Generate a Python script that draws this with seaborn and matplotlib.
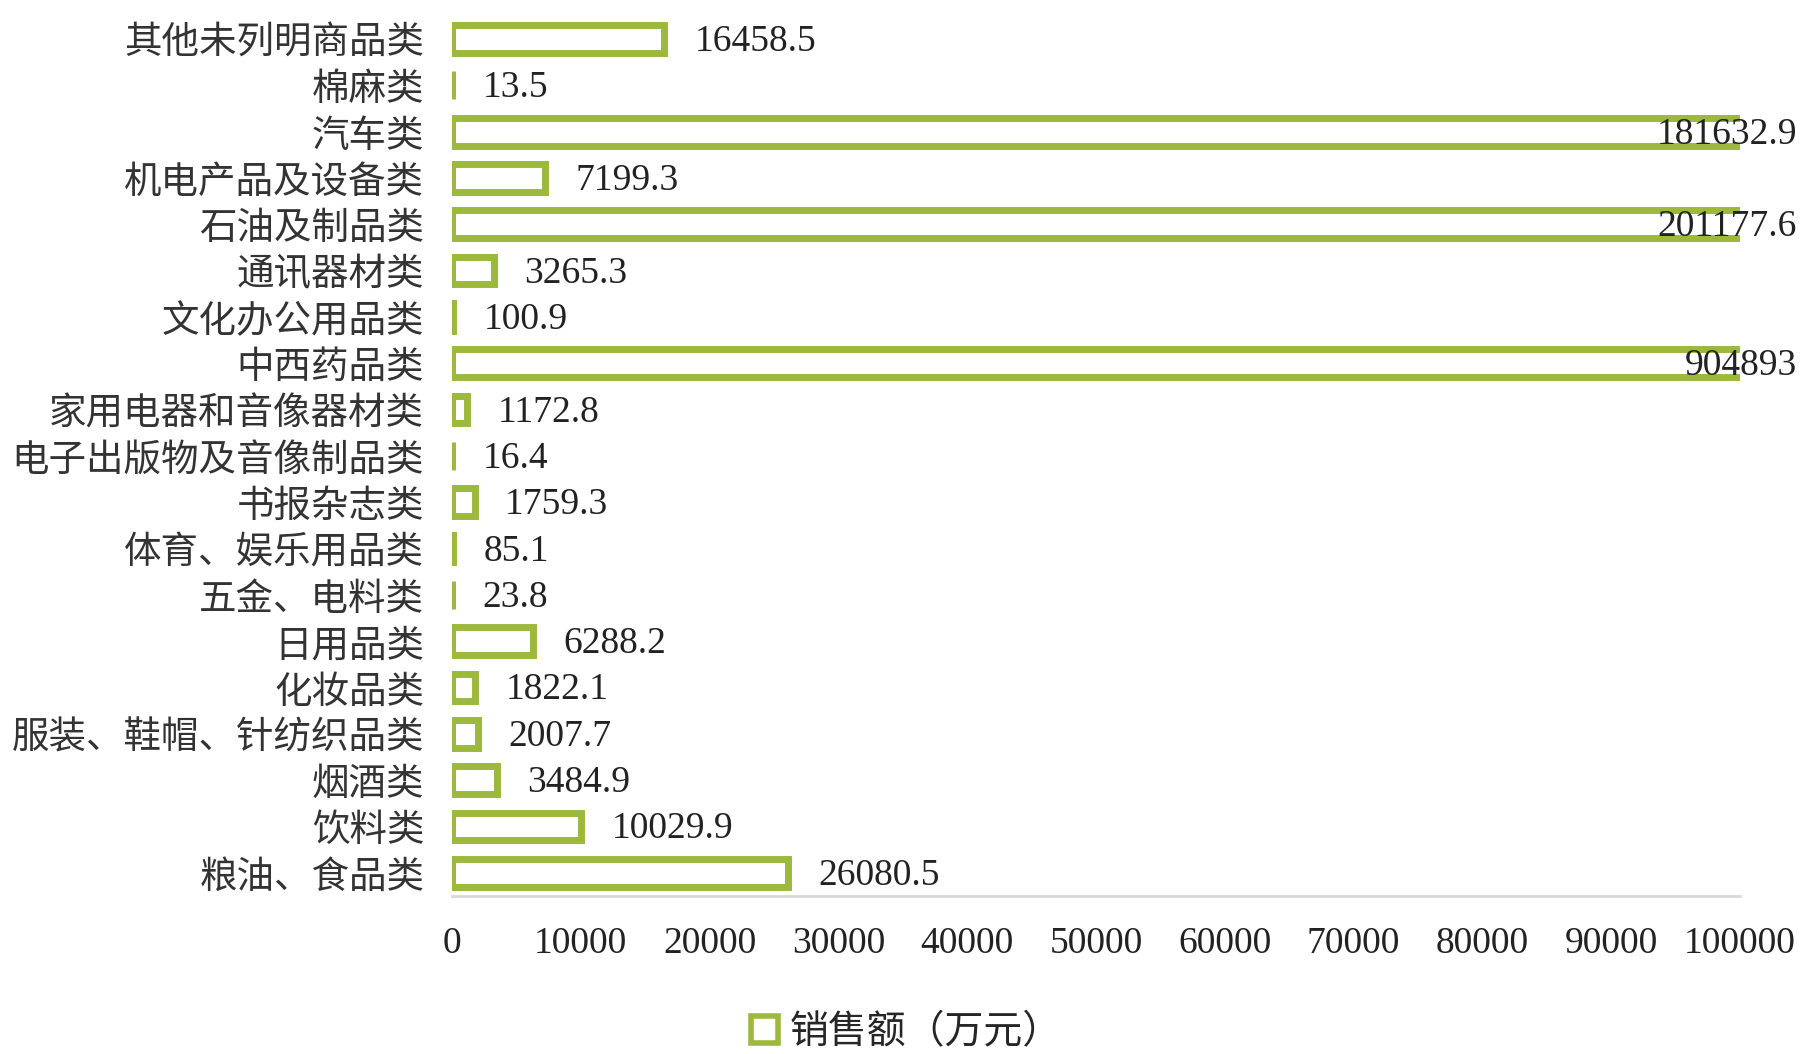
import matplotlib
matplotlib.use("Agg")
import matplotlib.pyplot as plt
from matplotlib.patches import Patch
import seaborn as sns
import pandas as pd

# ==========================
# DATA
# ==========================
CATEGORIES = [
    "其他未列明商品类", "棉麻类", "汽车类", "机电产品及设备类", "石油及制品类",
    "通讯器材类", "文化办公用品类", "中西药品类", "家用电器和音像器材类",
    "电子出版物及音像制品类", "书报杂志类", "体育、娱乐用品类", "五金、电料类",
    "日用品类", "化妆品类", "服装、鞋帽、针纺织品类", "烟酒类", "饮料类", "粮油、食品类",
]
SALES = [
    16458.5, 13.5, 181632.9, 7199.3, 201177.6,
    3265.3, 100.9, 904893, 1172.8,
    16.4, 1759.3, 85.1, 23.8,
    6288.2, 1822.1, 2007.7, 3484.9, 10029.9, 26080.5,
]
LABELS = [
    "16458.5", "13.5", "181632.9", "7199.3", "201177.6",
    "3265.3", "100.9", "904893", "1172.8",
    "16.4", "1759.3", "85.1", "23.8",
    "6288.2", "1822.1", "2007.7", "3484.9", "10029.9", "26080.5",
]
XTICKS = [0, 10000, 20000, 30000, 40000, 50000, 60000, 70000, 80000, 90000, 100000]
SERIES_NAME = "销售额（万元）"

# ==========================
# STYLE
# ==========================
GREEN = "#9DB93C"
XMAX = 100000
CJK = ["Noto Sans CJK SC", "DejaVu Sans"]

sns.set_theme(style="white")
plt.rcParams["font.family"] = ["Liberation Serif", "Noto Sans CJK SC", "DejaVu Sans"]

df = pd.DataFrame({"category": CATEGORIES, "sales": SALES})

fig = plt.figure(figsize=(18.05, 10.54), dpi=100)
ax = fig.add_axes([0.2504, 0.150, 0.7136, 0.835])

sns.barplot(
    data=df, x="sales", y="category", orient="h",
    color="white", edgecolor=GREEN, linewidth=5, width=0.6,
    saturation=1, ax=ax,
)

ax.set_xlim(0, XMAX)
ax.set_xticks(XTICKS)
ax.set_xticklabels([str(t) for t in XTICKS], fontsize=27, color="#222222")
ax.tick_params(axis="x", length=0, pad=22)
ax.tick_params(axis="y", length=0, pad=20)
for lbl in ax.get_yticklabels():
    lbl.set_fontsize(27)
    lbl.set_color("#333333")
    lbl.set_family(CJK)

ax.set_xlabel("")
ax.set_ylabel("")
for side in ["top", "right", "left"]:
    ax.spines[side].set_visible(False)
ax.spines["bottom"].set_color("#d9d9d9")
ax.spines["bottom"].set_linewidth(2)

# value labels
for i, (val, txt) in enumerate(zip(SALES, LABELS)):
    if val > XMAX:
        ax.annotate(txt, xy=(XMAX, i), xytext=(41, -2), textcoords="offset points",
                    ha="right", va="center", fontsize=27, color="#222222",
                    annotation_clip=False)
    else:
        ax.annotate(txt, xy=(val, i), xytext=(22, -2), textcoords="offset points",
                    ha="left", va="center", fontsize=27, color="#222222")

# legend
handle = Patch(facecolor="white", edgecolor=GREEN, linewidth=4, label=SERIES_NAME)
fig.legend(
    handles=[handle], loc="center", bbox_to_anchor=(0.502, 0.021),
    frameon=False, handlelength=0.7, handleheight=0.7, handletextpad=0.3,
    prop={"family": CJK, "size": 28},
)

plt.savefig("out.png", dpi=100)
